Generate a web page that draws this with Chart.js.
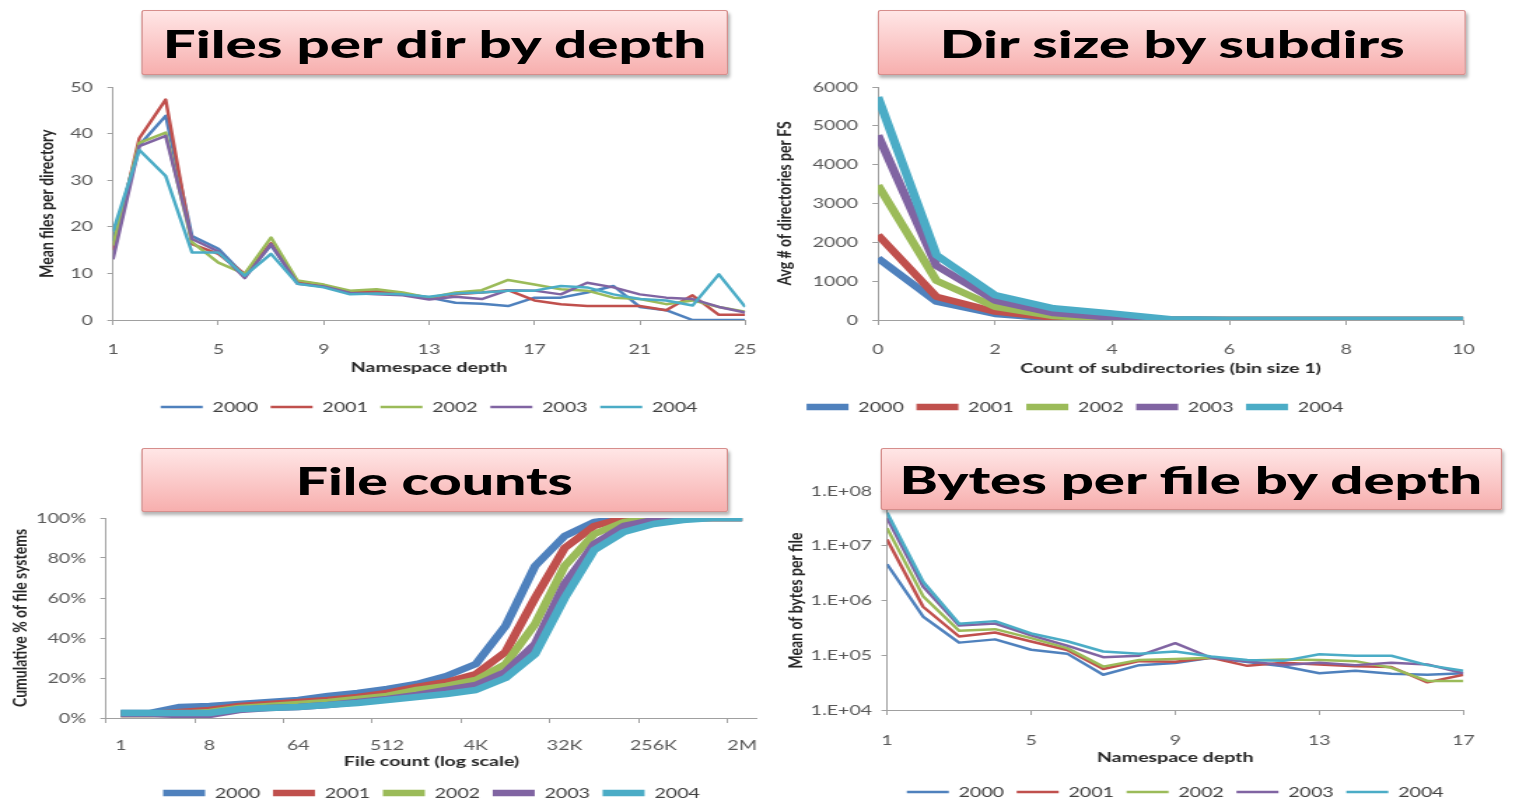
<!DOCTYPE html>
<html lang="en">
<head>
<meta charset="utf-8">
<script src="https://cdn.jsdelivr.net/npm/chart.js@4.4.0/dist/chart.umd.min.js"></script>
<style>
  html, body { margin: 0; padding: 0; background: #fff; overflow: hidden; }
  /* the slide is stretched sideways, so everything is laid out narrow and scaled */
  #stage { position: absolute; left: 0; top: 0; width: 1082px; height: 802px;
           transform: scaleX(1.4); transform-origin: 0 0; }
  #stage canvas { position: absolute; }
  .title { position: absolute; box-sizing: border-box; border: 1px solid #d68e8c;
           background: linear-gradient(#ffe6e6, #f7afae); border-radius: 2px;
           box-shadow: 1px 3px 3px rgba(0,0,0,0.3);
           display: flex; align-items: center; justify-content: center;
           font-family: Lato, sans-serif; font-weight: 900; font-size: 38px; color: #000;
           white-space: nowrap; z-index: 5; }
  .title span { display: inline-block; transform-origin: 50% 50%; }
</style>
</head>
<body>
<div id="stage">
  <div class="title" style="left:101px;top:10px;width:419px;height:65px"><span data-w="391">Files per dir by depth</span></div>
  <div class="title" style="left:627px;top:10px;width:420px;height:65px"><span data-w="334">Dir size by subdirs</span></div>
  <div class="title" style="left:101px;top:448px;width:419px;height:64px"><span data-w="198">File counts</span></div>
  <div class="title" style="left:629px;top:448px;width:444px;height:62px"><span data-w="418">Bytes per file by depth</span></div>
  <canvas id="c1"></canvas>
  <canvas id="c2"></canvas>
  <canvas id="c3"></canvas>
  <canvas id="c4"></canvas>
</div>

<script>
    // ---- data ----
    var years = ['2000', '2001', '2002', '2003', '2004'];
    var colors = ['#4f81bd', '#c0504d', '#9bbb59', '#8064a2', '#4bacc6'];

    // Files per dir by depth
    var depth25 = [1, 2, 3, 4, 5, 6, 7, 8, 9, 10, 11, 12, 13, 14, 15, 16, 17, 18, 19, 20, 21, 22, 23, 24, 25];
    var depth25Ticks = [1, 5, 9, 13, 17, 21, 25];
    var filesPerDir2000 = [17, 37.5, 43.8, 18, 15.3, 9.5, 16, 8, 7.2, 5.8, 6.1, 5.5, 4.8, 3.7, 3.5, 3.0, 4.8, 4.8, 5.9, 7.3, 2.8, 2.1, 0, 0, 0];
    var filesPerDir2001 = [15, 39, 47.3, 16.3, 14.2, 9.9, 16.5, 8.3, 7.5, 6.0, 6.1, 5.7, 4.8, 5.5, 5.9, 6.4, 4.2, 3.4, 3.0, 3.0, 3.0, 2.1, 5.3, 1.1, 1.1];
    var filesPerDir2002 = [16, 38, 40.2, 16.7, 12.3, 9.9, 17.7, 8.5, 7.6, 6.3, 6.6, 5.9, 4.8, 5.9, 6.4, 8.6, 7.6, 6.6, 6.3, 4.8, 4.5, 3.4, 4.2, 2.8, 1.8];
    var filesPerDir2003 = [13, 37.3, 39.5, 17.4, 14.7, 9.0, 16.3, 7.8, 7.2, 5.8, 5.5, 5.3, 4.4, 5.0, 4.5, 6.4, 6.3, 5.5, 8.0, 7.0, 5.5, 4.8, 4.5, 2.8, 1.6];
    var filesPerDir2004 = [19, 36.5, 30.9, 14.5, 14.5, 9.5, 14.2, 7.8, 7.0, 5.5, 5.7, 5.5, 5.0, 5.7, 5.9, 6.3, 6.3, 7.3, 7.0, 5.5, 4.5, 4.2, 3.1, 9.8, 2.8];

    // Dir size by subdirs
    var subdirCount = [0, 1, 2, 3, 4, 5, 6, 7, 8, 9, 10];
    var subdirTicks = [0, 2, 4, 6, 8, 10];
    var dirs2000 = [1590, 470, 155, 40, 10, 0, 0, 0, 0, 0, 0];
    var dirs2001 = [2190, 600, 215, 60, 15, 0, 0, 0, 0, 0, 0];
    var dirs2002 = [3470, 1010, 340, 100, 30, 5, 0, 0, 0, 0, 0];
    var dirs2003 = [4760, 1400, 500, 180, 60, 10, 0, 0, 0, 0, 0];
    var dirs2004 = [5740, 1670, 640, 300, 170, 20, 0, 0, 0, 0, 0];

    // File counts (cumulative %)
    var fileCountLabels = ['1', '2', '4', '8', '16', '32', '64', '128', '256', '512', '1K', '2K',
        '4K', '8K', '16K', '32K', '64K', '128K', '256K', '512K', '1M', '2M'];
    var cumul2000 = [2.5, 2.5, 5.5, 6, 7, 8, 9, 11, 12.5, 14.5, 17, 21, 27, 46, 76, 91, 98, 100, 100, 100, 100, 100];
    var cumul2001 = [2, 2, 3, 4, 6, 7, 8, 9, 10.5, 12.5, 15.5, 18, 22, 33, 60, 85, 96, 100, 100, 100, 100, 100];
    var cumul2002 = [2, 2, 2, 3, 5, 6, 7, 8, 9.5, 11, 14, 16, 19, 27, 47, 76, 92, 98, 100, 100, 100, 100];
    var cumul2003 = [2, 2, 1.5, 1.5, 4, 5, 5.5, 6.5, 8, 9.5, 11.5, 14, 16.5, 23, 37, 67, 87, 96, 99, 100, 100, 100];
    var cumul2004 = [2.5, 2.5, 2.5, 2.5, 4.5, 5, 5.5, 6.5, 7.5, 9, 10.5, 12, 14, 20, 32, 60, 84, 93, 97, 99, 100, 100];

    // Bytes per file by depth
    var depth17 = [1, 2, 3, 4, 5, 6, 7, 8, 9, 10, 11, 12, 13, 14, 15, 16, 17];
    var depth17Ticks = [1, 5, 9, 13, 17];
    var logTicks = [1e4, 1e5, 1e6, 1e7, 1e8];
    var logTickLabels = ['1.E+04', '1.E+05', '1.E+06', '1.E+07', '1.E+08'];
    var bytes2000 = [4.6e6, 5.1e5, 1.7e5, 1.95e5, 1.26e5, 1.07e5, 4.4e4, 6.6e4, 7.2e4, 9e4, 7.5e4, 6.3e4, 4.7e4, 5.2e4, 4.6e4, 4.4e4, 4.7e4];
    var bytes2001 = [1.3e7, 7.7e5, 2.2e5, 2.6e5, 1.78e5, 1.25e5, 5.6e4, 7.8e4, 7.6e4, 9e4, 6.4e4, 7.3e4, 6.8e4, 6.3e4, 6.1e4, 3.2e4, 4.4e4];
    var bytes2002 = [2.1e7, 1.2e6, 2.8e5, 3.0e5, 2.05e5, 1.35e5, 6.2e4, 8.2e4, 8.5e4, 9e4, 8.0e4, 8.4e4, 8.2e4, 7.8e4, 5.9e4, 3.4e4, 3.4e4];
    var bytes2003 = [3.2e7, 1.8e6, 3.5e5, 3.8e5, 2.3e5, 1.5e5, 9.2e4, 9.8e4, 1.66e5, 9e4, 7.8e4, 6.6e4, 7.3e4, 6.6e4, 7.3e4, 6.8e4, 4.7e4];
    var bytes2004 = [4e7, 2.2e6, 3.76e5, 4.2e5, 2.5e5, 1.8e5, 1.17e5, 1.07e5, 1.17e5, 9.5e4, 8.2e4, 7.9e4, 1.04e5, 9.8e4, 9.8e4, 6.6e4, 5.2e4];

    // ---- shared look ----
    Chart.defaults.font.family = 'Lato, sans-serif';
    var AXIS = '#a0a0a0';
    var TICK = '#595959';
    var FONT = 14, LH = FONT * 1.2;
    var LEG_PAD = 9;
    var LEG_H = FONT + LEG_PAD + 10;

    // fit the title text to the width it has in the picture
    var mctx = document.createElement('canvas').getContext('2d');
    mctx.font = '900 38px Lato';
    document.querySelectorAll('.title span').forEach(function (sp) {
        var w = mctx.measureText(sp.textContent).width;
        sp.style.transform = 'scaleX(' + (sp.dataset.w / w) + ')';
    });

    function xyData(xs, ys) {
        return xs.map(function (x, i) { return { x: x, y: ys[i] }; });
    }

    function datasets(series, xs, width) {
        return series.map(function (ys, i) {
            return {
                label: years[i],
                data: xs ? xyData(xs, ys) : ys,
                borderColor: colors[i],
                backgroundColor: colors[i],
                borderWidth: width,
                borderJoinStyle: 'round',
                pointRadius: 0,
                tension: 0,
                order: series.length - i // later years on top
            };
        });
    }

    // frame = canvas box, plot = chart area, both in stage pixels
    function BuildChart(id, frame, plot, place, xScale, yScale, data, fullLegend) {
        var cv = document.getElementById(id);
        cv.width = frame.w;
        cv.height = frame.h;
        cv.style.left = frame.x + 'px';
        cv.style.top = frame.y + 'px';

        var xBottom = frame.y + frame.h - LEG_H;
        var xH = xBottom - plot.bottom;
        var yW = plot.left - frame.x;
        var tl = 5, ytl = 4;

        xScale.position = 'bottom';
        xScale.border = { display: true, color: AXIS, width: 1 };
        xScale.grid = Object.assign({ display: true, drawOnChartArea: false, drawTicks: true,
            tickLength: tl, tickColor: AXIS }, xScale.grid || {});
        xScale.ticks = Object.assign({ color: TICK, font: { size: FONT }, maxRotation: 0,
            autoSkip: false, padding: place.xLabelY - plot.bottom - tl - LH / 2 }, xScale.ticks || {});
        xScale.title = { display: true, text: xScale.titleText, color: '#262626',
            font: { size: 14, weight: 'bold' },
            padding: { top: 0, bottom: xBottom - place.xTitleY - 8.4 } };
        xScale.afterFit = function (s) { s.height = xH; };

        yScale.position = 'left';
        yScale.border = { display: true, color: AXIS, width: 1 };
        yScale.grid = { display: true, drawOnChartArea: false, drawTicks: true, tickLength: ytl, tickColor: AXIS };
        yScale.ticks = Object.assign({ color: TICK, font: { size: FONT },
            padding: plot.left - place.yLabelRight - ytl }, yScale.ticks || {});
        yScale.title = { display: true, text: yScale.titleText, color: '#262626',
            font: { size: 14, weight: 'bold' },
            padding: { top: place.yTitleX - frame.x - 8.4, bottom: 0 } };
        yScale.afterFit = function (s) { s.width = yW; };

        return new Chart(cv.getContext('2d'), {
            type: 'line',
            data: data,
            options: {
                responsive: false,
                animation: false,
                devicePixelRatio: 1,
                layout: { padding: { top: plot.top - frame.y, right: frame.x + frame.w - plot.right, left: 0, bottom: 0 } },
                plugins: {
                    tooltip: { enabled: false },
                    legend: {
                        position: 'bottom',
                        fullSize: !!fullLegend,
                        labels: {
                            usePointStyle: true,
                            pointStyle: 'line',
                            pointStyleWidth: 30,
                            padding: LEG_PAD,
                            color: '#404040',
                            font: { size: FONT },
                            sort: function (a, b) { return a.datasetIndex - b.datasetIndex; }
                        }
                    }
                },
                scales: { x: xScale, y: yScale }
            }
        });
    }

    function fixedTicks(list) {
        return function (s) { s.ticks = list.map(function (v) { return { value: v }; }); };
    }
    function plain(v) { return String(v); }

    // top left
    BuildChart('c1',
        { x: 0, y: 64, w: 556, h: 360 },
        { left: 80.7, top: 87, right: 540.7, bottom: 320 },
        { xLabelY: 349, xTitleY: 367, yLabelRight: 66.4, yTitleX: 33.6 },
        { type: 'linear', min: 1, max: 25, titleText: 'Namespace depth', afterBuildTicks: fixedTicks(depth25Ticks) },
        { type: 'linear', min: 0, max: 50, titleText: 'Mean files per directory', ticks: { stepSize: 10, callback: plain } },
        { datasets: datasets([filesPerDir2000, filesPerDir2001, filesPerDir2002, filesPerDir2003, filesPerDir2004], depth25, 2.5) },
        false);

    // top right
    BuildChart('c2',
        { x: 487, y: 64, w: 582, h: 360 },
        { left: 627.1, top: 87, right: 1048.6, bottom: 320 },
        { xLabelY: 349, xTitleY: 368, yLabelRight: 612.9, yTitleX: 560.7 },
        { type: 'linear', min: 0, max: 10, titleText: 'Count of subdirectories (bin size 1)', afterBuildTicks: fixedTicks(subdirTicks) },
        { type: 'linear', min: 0, max: 6000, titleText: 'Avg # of directories per FS', ticks: { stepSize: 1000, callback: plain } },
        { datasets: datasets([dirs2000, dirs2001, dirs2002, dirs2003, dirs2004], subdirCount, 6.5) },
        true);

    // bottom left
    BuildChart('c3',
        { x: 0, y: 496, w: 556, h: 314 },
        { left: 75.7, top: 518, right: 540.7, bottom: 718 },
        { xLabelY: 745, xTitleY: 761, yLabelRight: 61.4, yTitleX: 14.3 },
        {
            type: 'category', offset: true, titleText: 'File count (log scale)',
            grid: { offset: true, tickColor: function (c) { return c.index % 3 === 0 ? AXIS : 'rgba(0,0,0,0)'; } },
            ticks: { callback: function (v, i) { return i % 3 === 0 ? fileCountLabels[i] : ''; } }
        },
        { type: 'linear', min: 0, max: 100, titleText: 'Cumulative % of file systems',
            ticks: { stepSize: 20, callback: function (v) { return v + '%'; } } },
        { labels: fileCountLabels, datasets: datasets([cumul2000, cumul2001, cumul2002, cumul2003, cumul2004], null, 6.5) },
        false);

    // bottom right
    BuildChart('c4',
        { x: 540, y: 466, w: 530, h: 343 },
        { left: 633.6, top: 491, right: 1050, bottom: 710 },
        { xLabelY: 740, xTitleY: 757, yLabelRight: 622.9, yTitleX: 568.6 },
        { type: 'linear', min: 1, max: 17, titleText: 'Namespace depth', afterBuildTicks: fixedTicks(depth17Ticks) },
        { type: 'logarithmic', min: 1e4, max: 1e8, titleText: 'Mean of bytes per file',
            afterBuildTicks: fixedTicks(logTicks),
            ticks: { callback: function (v) { return logTickLabels[logTicks.indexOf(v)]; } } },
        { datasets: datasets([bytes2000, bytes2001, bytes2002, bytes2003, bytes2004], depth17, 2.5) },
        false);
</script>
</body>
</html>
